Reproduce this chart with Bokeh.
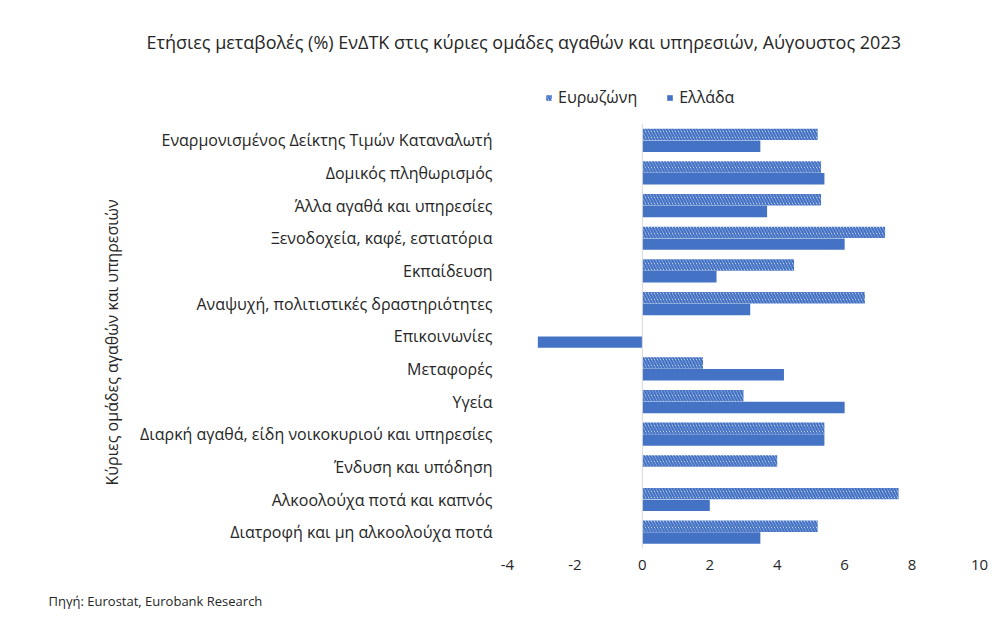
from bokeh.plotting import figure
from bokeh.models import (Range1d, Legend, LegendItem, Title,
                          ColumnDataSource, FixedTicker)
from bokeh.transform import dodge
from bokeh.embed import file_html
from bokeh.resources import INLINE

# ---- data (top to bottom as in the chart) ----
categories = [
    "Εναρμονισμένος Δείκτης Τιμών Καταναλωτή",
    "Δομικός πληθωρισμός",
    "Άλλα αγαθά και υπηρεσίες",
    "Ξενοδοχεία, καφέ, εστιατόρια",
    "Εκπαίδευση",
    "Αναψυχή, πολιτιστικές δραστηριότητες",
    "Επικοινωνίες",
    "Μεταφορές",
    "Υγεία",
    "Διαρκή αγαθά, είδη νοικοκυριού και υπηρεσίες",
    "Ένδυση και υπόδηση",
    "Αλκοολούχα ποτά και καπνός",
    "Διατροφή και μη αλκοολούχα ποτά",
]
eurozone = [5.2, 5.3, 5.3, 7.2, 4.5, 6.6, 0.0, 1.8, 3.0, 5.4, 4.0, 7.6, 5.2]
greece = [3.5, 5.4, 3.7, 6.0, 2.2, 3.2, -3.1, 4.2, 6.0, 5.4, 0.0, 2.0, 3.5]
x_ticks = [-4, -2, 0, 2, 4, 6, 8, 10]
x_tick_labels = ["-4", "-2", "0", "2", "4", "6", "8", "10"]

series_names = ["Ευρωζώνη", "Ελλάδα"]
title_text = "Ετήσιες μεταβολές (%) ΕνΔΤΚ στις κύριες ομάδες αγαθών και υπηρεσιών, Αύγουστος 2023"
y_title = "Κύριες ομάδες αγαθών και υπηρεσιών"
source_text = "Πηγή: Eurostat, Eurobank Research"

BLUE = "#4472C4"
FONT = "Open Sans"
TXT = "#262626"

n = len(categories)
ypos = [n - i for i in range(n)]          # category slots, top row highest
src = ColumnDataSource(dict(cat=categories, y=ypos, ez=eurozone, gr=greece))

p = figure(width=998, height=630,
           y_range=Range1d(0.5, n + 1.8),   # extra room on top holds the legend
           x_range=Range1d(-4, 10),
           output_backend="svg", toolbar_location=None,
           min_border_left=507, min_border_right=19,
           min_border_top=81, min_border_bottom=82)

r_ez = p.hbar(y=dodge("y", 0.18), left=0, right="ez", height=0.35,
              fill_color="white", hatch_pattern="left_diagonal_line",
              hatch_color=BLUE, hatch_scale=6, hatch_weight=2.4,
              line_color=None, source=src)
r_gr = p.hbar(y=dodge("y", -0.18), left=0, right="gr", height=0.35,
              fill_color=BLUE, line_color=None, source=src)

# zero reference line spanning the category slots only
p.segment(x0=[0], y0=[0.5], x1=[0], y1=[n + 0.5], line_color="#d9d9d9", line_width=1)

p.xgrid.visible = False
p.ygrid.visible = False
p.outline_line_color = None

p.xaxis.ticker = FixedTicker(ticks=x_ticks)
p.xaxis.major_label_overrides = {t: s for t, s in zip(x_ticks, x_tick_labels)}
p.yaxis.ticker = FixedTicker(ticks=ypos)
p.yaxis.major_label_overrides = {y: c for y, c in zip(ypos, categories)}
for ax in (p.xaxis[0], p.yaxis[0]):
    ax.axis_line_color = None
    ax.major_tick_line_color = None
    ax.minor_tick_line_color = None
    ax.major_label_text_font = FONT
    ax.major_label_text_color = TXT
p.xaxis.major_label_text_font_size = "15px"
p.yaxis.major_label_text_font_size = "16px"
p.xaxis.major_label_standoff = 5
p.yaxis.major_label_standoff = 9

legend = Legend(items=[LegendItem(label=series_names[0], renderers=[r_ez]),
                       LegendItem(label=series_names[1], renderers=[r_gr])],
                orientation="horizontal", location=(38, 440),
                padding=0, margin=0, spacing=29, label_standoff=6,
                glyph_width=7, glyph_height=7, label_height=16,
                label_text_font=FONT, label_text_font_size="16px",
                label_text_color=TXT, border_line_color=None,
                background_fill_alpha=0)
p.add_layout(legend)

p.title.text = title_text
p.title.align = "left"
p.title.vertical_align = "top"
p.title.offset = -361
p.title.standoff = 52
p.title.text_font = FONT
p.title.text_font_size = "18px"
p.title.text_font_style = "normal"
p.title.text_color = TXT

p.add_layout(Title(text=y_title, align="left", vertical_align="bottom", offset=63,
                   standoff=30, text_font=FONT, text_font_size="16px",
                   text_font_style="normal", text_color=TXT), "left")

p.add_layout(Title(text=source_text, align="left", vertical_align="top", offset=-459,
                   standoff=38, text_font=FONT, text_font_size="13px",
                   text_font_style="normal", text_color=TXT), "below")

open("out.html", "w").write(file_html(p, INLINE))
